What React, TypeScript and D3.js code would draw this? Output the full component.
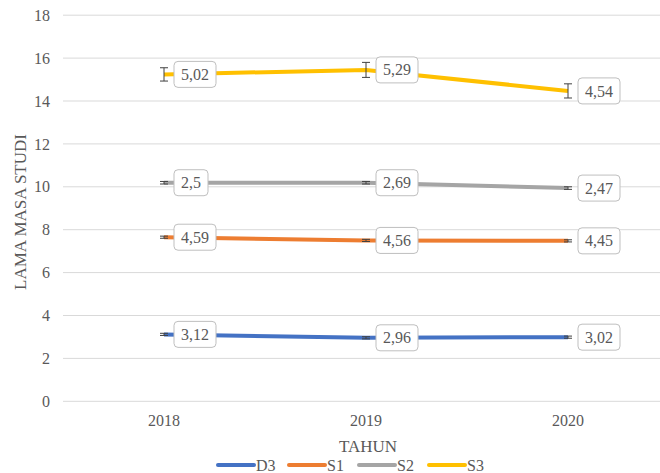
import React from "react";
import * as d3 from "d3";

const years = ["2018", "2019", "2020"];
const seriesNames = ["D3", "S1", "S2", "S3"];
const d3Values = [3.12, 2.96, 2.99];
const s1Values = [7.65, 7.5, 7.48];
const s2Values = [10.19, 10.19, 9.94];
const s3Values = [15.24, 15.45, 14.47];
const d3Errors = [0.05, 0.05, 0.05];
const s1Errors = [0.05, 0.05, 0.05];
const s2Errors = [0.06, 0.06, 0.06];
const s3Errors = [0.31, 0.35, 0.33];
const d3Labels = ["3,12", "2,96", "3,02"];
const s1Labels = ["4,59", "4,56", "4,45"];
const s2Labels = ["2,5", "2,69", "2,47"];
const s3Labels = ["5,02", "5,29", "4,54"];
const yTicks = [0, 2, 4, 6, 8, 10, 12, 14, 16, 18];
const colors = ["#4472C4", "#ED7D31", "#A5A5A5", "#FFC000"];

const W = 660;
const H = 473;
const FONT = '"Liberation Serif", "Times New Roman", serif';

export default function App() {
  const x = d3.scaleLinear().domain([0, 2]).range([164, 568]);
  const y = d3.scaleLinear().domain([0, 18]).range([401.3, 15.2]);
  const values = [d3Values, s1Values, s2Values, s3Values];
  const errors = [d3Errors, s1Errors, s2Errors, s3Errors];
  const labels = [d3Labels, s1Labels, s2Labels, s3Labels];
  const line = d3
    .line<number>()
    .x((_, i) => x(i))
    .y((v) => y(v));
  const textW = (s: string) =>
    s.split("").reduce((a, c) => a + (c === "," ? 4 : 8), 0);
  const legendX = [218, 289, 359, 429];
  const txt = { fontFamily: FONT, fontSize: 16, fill: "#595959" } as React.CSSProperties;
  const ttl = { fontFamily: FONT, fontSize: 17, fill: "#595959" } as React.CSSProperties;
  return (
    <svg width={W} height={H} style={{ display: "block", fontFamily: FONT }}>
      <style>{"body{margin:0}"}</style>
      <rect width={W} height={H} fill="#ffffff" />
      {yTicks.map((t) => (
        <g key={t}>
          <line x1={63} x2={W} y1={y(t)} y2={y(t)} stroke="#d9d9d9" strokeWidth={1} />
          <text x={50} y={y(t)} dy="0.35em" textAnchor="end" style={txt}>
            {t}
          </text>
        </g>
      ))}
      {years.map((yr, i) => (
        <text key={yr} x={x(i)} y={426} textAnchor="middle" style={txt}>
          {yr}
        </text>
      ))}
      <text x={368} y={452} textAnchor="middle" style={ttl}>
        TAHUN
      </text>
      <text
        transform="translate(20,212) rotate(-90)"
        textAnchor="middle"
        dy="0.35em"
        style={ttl}
      >
        LAMA MASA STUDI
      </text>
      {values.map((vals, si) => (
        <path
          key={si}
          d={line(vals) || ""}
          fill="none"
          stroke={colors[si]}
          strokeWidth={4}
          strokeLinejoin="round"
        />
      ))}
      {values.map((vals, si) =>
        vals.map((v, i) => {
          const e = errors[si][i];
          const cx = x(i);
          return (
            <g key={`e${si}-${i}`} stroke="#404040" strokeWidth={1}>
              <line x1={cx} x2={cx} y1={y(v + e)} y2={y(v - e)} />
              <line x1={cx - 4} x2={cx + 4} y1={y(v + e)} y2={y(v + e)} />
              <line x1={cx - 4} x2={cx + 4} y1={y(v - e)} y2={y(v - e)} />
            </g>
          );
        })
      )}
      {values.map((vals, si) =>
        vals.map((v, i) => {
          const s = labels[si][i];
          const w = textW(s) + 14;
          const bx = x(i) + 10;
          const cy = y(v);
          return (
            <g key={`l${si}-${i}`}>
              <rect
                x={bx}
                y={cy - 13}
                width={w}
                height={26}
                rx={4}
                fill="#ffffff"
                stroke="#bfbfbf"
                strokeWidth={1}
              />
              <text x={bx + w / 2} y={cy} dy="0.35em" textAnchor="middle" style={txt}>
                {s}
              </text>
            </g>
          );
        })
      )}
      {seriesNames.map((n, i) => (
        <g key={n}>
          <line
            x1={legendX[i]}
            x2={legendX[i] + 36}
            y1={465}
            y2={465}
            stroke={colors[i]}
            strokeWidth={4}
            strokeLinecap="round"
          />
          <text x={legendX[i] + 38} y={471} style={txt}>
            {n}
          </text>
        </g>
      ))}
    </svg>
  );
}
